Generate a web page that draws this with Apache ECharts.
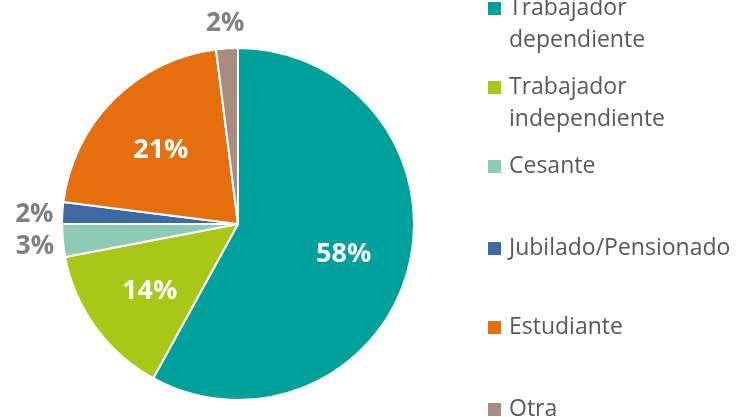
<!DOCTYPE html>
<html lang="es">
<head>
<meta charset="UTF-8">
<title>Situación laboral</title>
<script src="https://cdn.jsdelivr.net/npm/echarts@6/dist/echarts.min.js"></script>
<style>
  html, body { margin: 0; padding: 0; background: #fff; }
  #chart { width: 736px; height: 417px; }
</style>
</head>
<body>
<div id="chart"></div>
<script>
// datos
var categorias = ['Trabajador dependiente', 'Trabajador independiente', 'Cesante', 'Jubilado/Pensionado', 'Estudiante', 'Otra'];
var leyenda = ['Trabajador\ndependiente', 'Trabajador\nindependiente', 'Cesante', 'Jubilado/Pensionado', 'Estudiante', 'Otra'];
var porcentajes = [58, 14, 3, 2, 21, 2];
var colores = ['#00a19a', '#a8c716', '#8ecbb6', '#3e69a5', '#e56f0c', '#a78c7f'];

var centro = [238, 224];
var radio = 176;

var chart = echarts.init(document.getElementById('chart'));

var datos = categorias.map(function (c, i) {
    var dentro = porcentajes[i] >= 10;
    return {
        name: c,
        value: porcentajes[i],
        itemStyle: { color: colores[i] },
        label: { color: dentro ? '#ffffff' : '#808080', fontSize: dentro ? 27 : 26 }
    };
});

// ángulo medio de cada porción (grados, sentido horario desde arriba)
var total = porcentajes.reduce(function (a, b) { return a + b; }, 0);
var acum = 0;
var angMedio = porcentajes.map(function (v) {
    var a = (acum + v / 2) / total * 360;
    acum += v;
    return a;
});

// leyenda dibujada a mano (el cuadro va con la primera línea)
var filasLeyenda = [8, 87, 166, 248, 327, 409];
var graficos = [];
leyenda.forEach(function (t, i) {
    graficos.push({
        type: 'rect', left: 488, top: filasLeyenda[i] - 6,
        shape: { width: 13, height: 13 },
        style: { fill: colores[i] }
    });
    graficos.push({
        type: 'text', left: 509, top: filasLeyenda[i] - 16,
        style: {
            text: t, fill: '#595959',
            font: '23px "Open Sans", sans-serif',
            lineHeight: 32
        }
    });
});

var option = {
    animation: false,
    graphic: graficos,
    series: [{
        type: 'pie',
        center: centro,
        radius: [0, radio],
        startAngle: 90,
        clockwise: true,
        avoidLabelOverlap: false,
        itemStyle: { borderColor: '#ffffff', borderWidth: 2 },
        label: {
            show: true,
            position: 'inner',
            formatter: '{c}%',
            fontFamily: 'Open Sans',
            fontWeight: 'bold'
        },
        labelLine: { show: false },
        labelLayout: function (p) {
            var i = p.dataIndex;
            var a = angMedio[i] * Math.PI / 180;
            var d = porcentajes[i] >= 10 ? radio * 0.62 : radio + 28;
            return {
                x: centro[0] + d * Math.sin(a),
                y: centro[1] - d * Math.cos(a) + 3,
                align: 'center',
                verticalAlign: 'middle'
            };
        },
        data: datos
    }]
};
chart.setOption(option);
</script>
</body>
</html>
